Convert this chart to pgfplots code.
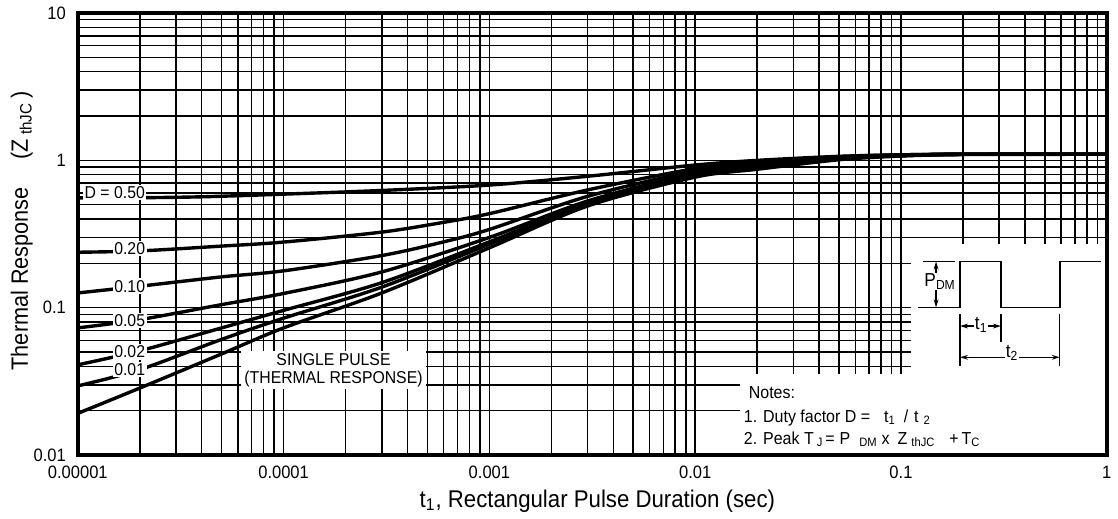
\documentclass[border=0pt]{standalone}
\usepackage{pgfplots}
\pgfplotsset{compat=1.18}
\usepackage{fontspec}
\setmainfont{Liberation Sans}[FakeStretch=0.92]
\usetikzlibrary{arrows.meta}
\begin{document}
\begin{tikzpicture}
\begin{axis}[
  xmode=log, ymode=log,
  scale only axis, width=515.5pt, height=221.5pt,
  xmin=1e-5, xmax=1, ymin=0.01, ymax=10,
  xtick={1e-5,1e-4,1e-3,1e-2,1e-1,1},
  xticklabels={0.00001,0.0001,0.001,0.01,0.1,1},
  ytick={0.01,0.1,1,10},
  yticklabels={0.01,0.1,1,10},
  minor xtick={2e-5,3e-5,4e-5,5e-5,6e-5,7e-5,8e-5,9e-5,2e-4,3e-4,4e-4,5e-4,6e-4,7e-4,8e-4,9e-4,2e-3,3e-3,4e-3,5e-3,6e-3,7e-3,8e-3,9e-3,0.02,0.03,0.04,0.05,0.06,0.07,0.08,0.09,0.2,0.3,0.4,0.5,0.6,0.7,0.8,0.9},
  minor ytick={0.02,0.03,0.04,0.05,0.06,0.07,0.08,0.09,0.2,0.3,0.4,0.5,0.6,0.7,0.8,0.9,2,3,4,5,6,7,8,9},
  grid=both,
  major grid style={black, line width=0.75pt},
  minor grid style={black, line width=0.75pt},
  major tick length=0pt, minor tick length=0pt,
  axis line style={line width=1.8pt},
  ticklabel style={font=\fontsize{9}{10}\selectfont},
  yticklabel style={xshift=-2.5pt},
  xticklabel style={yshift=-2pt},
  /pgf/number format/assume math mode=true,
  xlabel={t\textsubscript{1}, Rectangular Pulse Duration (sec)},
  ylabel={Thermal Response\hspace{14pt}(Z\,\textsubscript{thJC}\,)},
  ylabel style={font=\fontsize{11.8}{13}\selectfont, at={(axis description cs:-0.0485,0.507)},anchor=base},
  xlabel style={font=\fontsize{12.1}{14}\selectfont, at={(axis description cs:0.505,-0.1174)},anchor=base},
  clip=false,
  cycle list={black, solid, line width=1.7pt, no marks, smooth\\},
]
% bounding box matching the reference
\path (rel axis cs:-0.07565,-0.14) rectangle (rel axis cs:1.00873,1.02935);

% D = 0.50
\addplot coordinates {(1e-5,0.556) (2e-5,0.558) (4e-5,0.566) (1e-4,0.59) (3e-4,0.625) (1e-3,0.68) (3e-3,0.78) (0.01,0.93) (0.02,1.0) (0.05,1.065) (0.1,1.09) (0.2,1.1) (1,1.1)};
% D = 0.20
\addplot coordinates {(1e-5,0.238) (2e-5,0.243) (5e-5,0.262) (1e-4,0.279) (3e-4,0.326) (6e-4,0.38) (1e-3,0.435) (3e-3,0.63) (0.01,0.88) (0.02,0.98) (0.05,1.06) (0.1,1.09) (0.2,1.1) (1,1.1)};
% D = 0.10
\addplot coordinates {(1e-5,0.126) (2e-5,0.140) (5e-5,0.162) (1e-4,0.178) (3e-4,0.226) (6e-4,0.28) (1e-3,0.34) (3e-3,0.57) (0.01,0.85) (0.02,0.96) (0.05,1.05) (0.1,1.085) (0.2,1.1) (1,1.1)};
% D = 0.05
\addplot coordinates {(1e-5,0.073) (2e-5,0.083) (5e-5,0.105) (1e-4,0.125) (3e-4,0.175) (1e-3,0.30) (3e-3,0.53) (0.01,0.82) (0.02,0.94) (0.05,1.04) (0.1,1.08) (0.2,1.1) (1,1.1)};
% D = 0.02
\addplot coordinates {(1e-5,0.041) (2e-5,0.051) (5e-5,0.073) (1e-4,0.096) (3e-4,0.148) (1e-3,0.28) (3e-3,0.51) (0.01,0.80) (0.02,0.92) (0.05,1.03) (0.1,1.08) (0.2,1.1) (1,1.1)};
% D = 0.01
\addplot coordinates {(1e-5,0.0295) (2e-5,0.038) (5e-5,0.061) (1e-4,0.085) (3e-4,0.138) (1e-3,0.27) (3e-3,0.50) (0.01,0.79) (0.02,0.90) (0.05,1.02) (0.1,1.075) (0.2,1.1) (1,1.1)};
% single pulse
\addplot coordinates {(1e-5,0.0192) (2e-5,0.0285) (5e-5,0.0486) (1e-4,0.073) (3e-4,0.126) (1e-3,0.255) (3e-3,0.49) (0.01,0.77) (0.02,0.87) (0.05,1.01) (0.1,1.07) (0.2,1.095) (1,1.1)};

% curve labels
\begin{scope}[every node/.style={fill=white, inner sep=0.8pt, font=\fontsize{8.6}{9}\selectfont}]
\node at (rel axis cs:0.0359,0.5937) {D = 0.50};
\node at (rel axis cs:0.0504,0.4673) {0.20};
\node at (rel axis cs:0.0504,0.3822) {0.10};
\node at (rel axis cs:0.0504,0.3047) {0.05};
\node at (rel axis cs:0.0504,0.2332) {0.02};
\node at (rel axis cs:0.0504,0.1941) {0.01};
\end{scope}

% single pulse box
\fill[white] (rel axis cs:0.1588,0.149) rectangle (rel axis cs:0.3382,0.2354);
\node[align=center, inner sep=0pt, font=\fontsize{8.6}{9}\selectfont] at (rel axis cs:0.2485,0.192) {SINGLE PULSE\\(THERMAL RESPONSE)};

% white areas for inset and notes
\fill[white] (rel axis cs:0.8099,0) rectangle (rel axis cs:1,0.4786);
\fill[white] (rel axis cs:0.644,0) rectangle (rel axis cs:1,0.1828);

% notes
\begin{scope}[every node/.style={anchor=base west, inner sep=0pt, font=\fontsize{8.7}{9}\selectfont}]
\node at (rel axis cs:0.6518,0.1287) {Notes:};
\node at (rel axis cs:0.647,0.0738) {1. Duty factor D =\hspace{7pt}t\textsubscript{1}\hspace{4pt}/\hspace{3pt}t\hspace{2.5pt}\textsubscript{2}};
\node at (rel axis cs:0.647,0.0248) {2. Peak T\hspace{1.5pt}\textsubscript{J}\hspace{1pt}=\hspace{2.5pt}P\hspace{4.5pt}\textsubscript{DM}\hspace{2pt}x\hspace{4pt}Z\hspace{2pt}\textsubscript{thJC}\hspace{7pt}+\hspace{1.5pt}T\textsubscript{C}};
\end{scope}

% pulse schematic
\draw[line width=0.75pt] (rel axis cs:0.8167,0.3341) -- (rel axis cs:0.8574,0.3341) -- (rel axis cs:0.8574,0.4379) -- (rel axis cs:0.8972,0.4379) -- (rel axis cs:0.8972,0.3341) -- (rel axis cs:0.9544,0.3341) -- (rel axis cs:0.9544,0.4379) -- (rel axis cs:0.9942,0.4379);
\draw[line width=0.75pt] (rel axis cs:0.8215,0.4379) -- (rel axis cs:0.8526,0.4379);
\draw[line width=0.6pt, {Stealth[length=4pt,width=2.4pt]}-{Stealth[length=4pt,width=2.4pt]}] (rel axis cs:0.8341,0.4379) -- (rel axis cs:0.8341,0.3341);
\node[anchor=base west, fill=white, inner sep=0.5pt, font=\fontsize{9.4}{10}\selectfont] at (rel axis cs:0.8215,0.3815) {P\textsubscript{DM}};
% dimension lines
\draw[line width=0.6pt] (rel axis cs:0.8574,0.3183) -- (rel axis cs:0.8574,0.2009);
\draw[line width=0.6pt] (rel axis cs:0.8972,0.3183) -- (rel axis cs:0.8972,0.2551);
\draw[line width=0.6pt] (rel axis cs:0.9544,0.3183) -- (rel axis cs:0.9544,0.2009);
\draw[line width=0.6pt, {Stealth[length=4pt,width=2.4pt]}-{Stealth[length=4pt,width=2.4pt]}] (rel axis cs:0.8574,0.2919) -- (rel axis cs:0.8972,0.2919);
\draw[line width=0.6pt, {Stealth[length=4pt,width=2.4pt]}-{Stealth[length=4pt,width=2.4pt]}] (rel axis cs:0.8574,0.2212) -- (rel axis cs:0.9544,0.2212);
\node[anchor=base, fill=white, inner sep=0.5pt, font=\fontsize{9.4}{10}\selectfont] at (rel axis cs:0.878,0.284) {t\textsubscript{1}};
\node[anchor=base, fill=white, inner sep=0.5pt, font=\fontsize{9.4}{10}\selectfont] at (rel axis cs:0.908,0.2212) {t\textsubscript{2}};

% frame on top
\draw[line width=1.8pt] (rel axis cs:0,0) rectangle (rel axis cs:1,1);
\end{axis}
\end{tikzpicture}
\end{document}
